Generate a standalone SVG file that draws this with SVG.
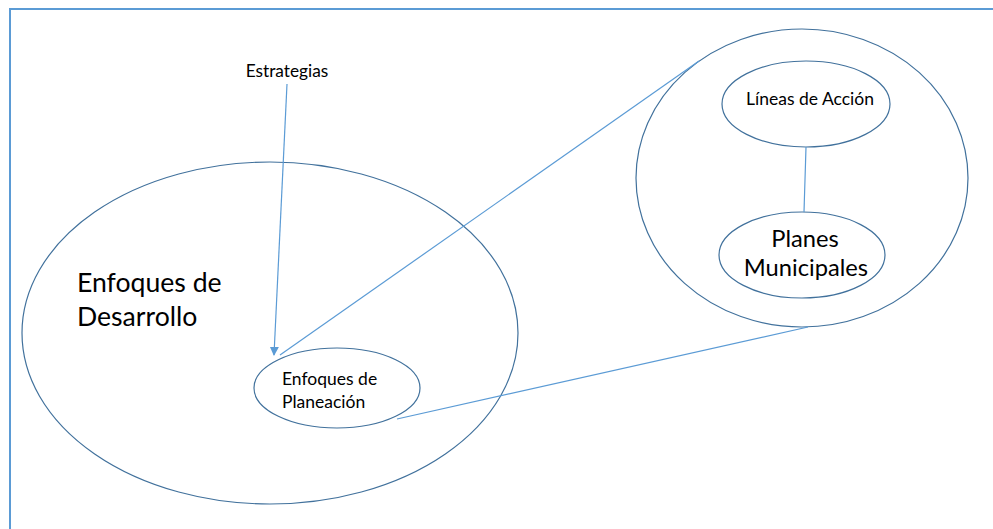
<svg xmlns="http://www.w3.org/2000/svg" width="993" height="529" viewBox="0 0 993 529">
<defs>
<style>
.node{fill:none;stroke:#41719c;stroke-width:1.2}
.conn{fill:none;stroke:#5b9bd5;stroke-width:1.2}
text{font-family:Lato,"Open Sans","Liberation Sans",sans-serif;fill:#000}
</style>
<marker id="arr" viewBox="0 0 10 10" refX="9" refY="5" markerWidth="9" markerHeight="9" markerUnits="userSpaceOnUse" orient="auto">
<path d="M0,0 L10,5 L0,10 z" fill="#5b9bd5"/>
</marker>
</defs>
<rect width="993" height="529" fill="#ffffff"/>
<path d="M10,529 L10,9 L993,9" fill="none" stroke="#5b9bd5" stroke-width="2"/>
<g id="desarrollo">
<ellipse class="node" cx="270" cy="333" rx="248" ry="171"/>
<text x="77" y="292" font-size="26.6">Enfoques de</text>
<text x="77" y="326" font-size="26.6">Desarrollo</text>
</g>
<g id="planeacion">
<ellipse class="node" cx="337" cy="388" rx="83" ry="40"/>
<text x="282" y="385" font-size="17.5">Enfoques de</text>
<text x="282" y="408" font-size="17.5">Planeación</text>
</g>
<g id="zoom">
<ellipse class="node" cx="802" cy="178" rx="166" ry="149"/>
</g>
<g id="lineas">
<ellipse class="node" cx="806" cy="104" rx="84" ry="43"/>
<text x="810" y="105" font-size="17.5" text-anchor="middle">Líneas de Acción</text>
</g>
<g id="planes">
<ellipse class="node" cx="802" cy="255" rx="83" ry="43"/>
<text x="805" y="247" font-size="23.7" text-anchor="middle">Planes</text>
<text x="806" y="276" font-size="23.7" text-anchor="middle">Municipales</text>
</g>
<g id="estrategias">
<text x="287" y="77" font-size="17.3" text-anchor="middle">Estrategias</text>
</g>
<g id="connectors">
<line class="conn" x1="287" y1="84" x2="274" y2="355" marker-end="url(#arr)"/>
<line class="conn" x1="280" y1="355" x2="699" y2="61"/>
<line class="conn" x1="397" y1="419" x2="808" y2="327"/>
<line class="conn" x1="806" y1="147" x2="804" y2="212"/>
</g>
</svg>
